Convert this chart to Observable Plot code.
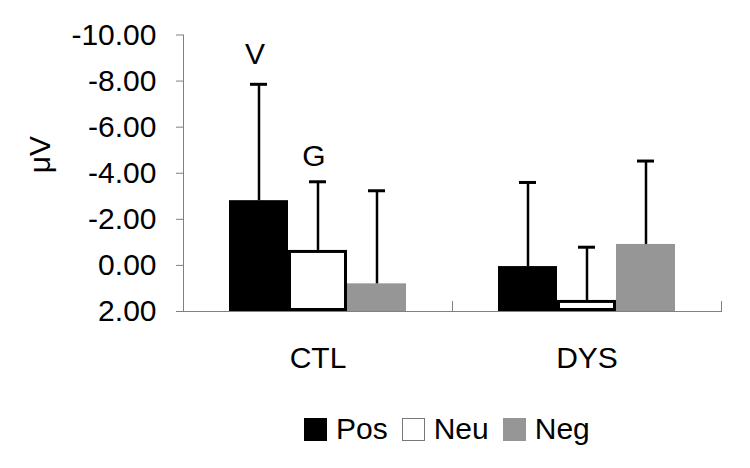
<!DOCTYPE html>
<html><head><meta charset="utf-8">
<script src="https://cdn.jsdelivr.net/npm/d3@7"></script>
<script src="https://cdn.jsdelivr.net/npm/@observablehq/plot@0.6"></script>
<style>
body{margin:0;background:#fff;font-family:"Liberation Sans",Arial,sans-serif;}
#wrap{position:relative;width:750px;height:468px;background:#fff;}
#legend{position:absolute;left:304px;top:414px;display:flex;align-items:center;font-size:30px;color:#000;line-height:30px;}
#legend .item{display:flex;align-items:center;margin-right:14px;}
#legend .sw{width:23px;height:23px;box-sizing:border-box;margin-right:9px;}
</style></head><body><div id="wrap"></div>
<script>
const groups = ["CTL", "DYS"];
const series = ["Pos", "Neu", "Neg"];
const seriesColors = ["#000000", "#ffffff", "#969696"];
const ctlMeans = [-2.81, -0.65, 0.80];
const dysMeans = [0.05, 1.52, -0.91];
const ctlErrTop = [-7.86, -3.63, -3.24];
const dysErrTop = [-3.60, -0.79, -4.53];
const yTicks = [-10, -8, -6, -4, -2, 0, 2];
const yBase = 2;
const annGroups = ["CTL", "CTL"];
const annSeries = ["Pos", "Neu"];
const annY = [-9.15, -4.72];
const annText = ["V", "G"];
const yLabel = "μV";

const rows = [];
groups.forEach((g, gi) => {
  const m = gi === 0 ? ctlMeans : dysMeans;
  const e = gi === 0 ? ctlErrTop : dysErrTop;
  series.forEach((s, si) => rows.push({group: g, series: s, mean: m[si], err: e[si], base: yBase}));
});
const anns = annText.map((t, i) => ({group: annGroups[i], series: annSeries[i], y: annY[i], label: t}));

const chart = Plot.plot({
  width: 750, height: 390,
  marginLeft: 183, marginRight: 29, marginTop: 34.5, marginBottom: 79,
  style: {fontFamily: '"Liberation Sans", Arial, sans-serif', color: "#000", background: "#fff"},
  fx: {domain: groups, padding: 0, label: null},
  x: {domain: series, paddingInner: 0, paddingOuter: 0.75, axis: null},
  y: {domain: [yBase, -10], axis: null},
  color: {domain: series, range: seriesColors},
  marks: [
    Plot.barY(rows, {fx: "group", x: "series", y1: "base", y2: "mean", fill: "series"}),
    Plot.barY(rows.filter(d => d.series === "Neu"), {fx: "group", x: "series", y1: "base", y2: "mean", fill: "white", stroke: "black", strokeWidth: 3, inset: 1.5}),
    Plot.ruleX(rows, {fx: "group", x: "series", y1: "mean", y2: "err", stroke: "black", strokeWidth: 2.5}),
    Plot.tickY(rows, {fx: "group", x: "series", y: "err", stroke: "black", strokeWidth: 3, insetLeft: 21, insetRight: 21}),
    Plot.text(anns, {fx: "group", x: "series", y: "y", text: "label", fontSize: 30, fill: "black", dx: -4}),
    Plot.ruleY([yBase], {stroke: "#808080", strokeWidth: 1}),
    Plot.frame({anchor: "right", insetTop: 266.5, stroke: "#808080", strokeWidth: 1}),
    Plot.frame({anchor: "left", facetAnchor: "left", stroke: "#808080", strokeWidth: 1}),
    Plot.axisY({ticks: yTicks, tickFormat: d => d.toFixed(2), tickSize: 7, tickPadding: 20, fontSize: 30, stroke: "#808080", fill: "black", label: null}),
    Plot.text([yLabel], {text: d => d, frameAnchor: "left", facetAnchor: "left", rotate: -90, dx: -143, fontSize: 30, fill: "black"}),
    Plot.axisFx({anchor: "bottom", tickSize: 0, tickPadding: 35, fontSize: 30, fill: "black", label: null})
  ]
});
const wrap = document.getElementById("wrap");
wrap.appendChild(chart);

const legend = document.createElement("div");
legend.id = "legend";
series.forEach((s, i) => {
  const item = document.createElement("div");
  item.className = "item";
  const sw = document.createElement("div");
  sw.className = "sw";
  sw.style.background = seriesColors[i];
  if (s === "Neu") sw.style.border = "1px solid #777";
  const t = document.createElement("span");
  t.textContent = s;
  item.appendChild(sw); item.appendChild(t);
  legend.appendChild(item);
});
wrap.appendChild(legend);
</script>
</body></html>
